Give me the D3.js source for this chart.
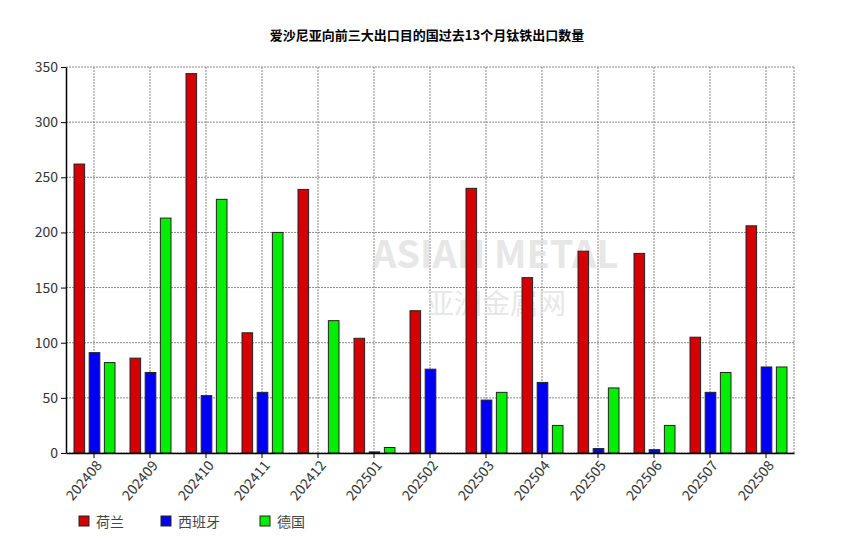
<!DOCTYPE html><html><head><meta charset="utf-8"><script src="https://cdn.jsdelivr.net/npm/d3@7"></script>
<style>body{margin:0;background:#fff}text{font-family:"Noto Sans CJK SC","DejaVu Sans",sans-serif}</style></head><body>
<svg id="c" width="855" height="554"></svg>
<script>
const months=["202408","202409","202410","202411","202412","202501","202502","202503","202504","202505","202506","202507","202508"];
const seriesNames=["荷兰","西班牙","德国"];
const colors=["#d40000","#0000ee","#00ee00"];
const netherlands=[262,86,344,109,239,104,129,240,159,183,181,105,206];
const spain=[91,73,52,55,0,1,76,48,64,4,3,55,78];
const germany=[82,213,230,200,120,5,0,55,25,59,25,73,78];
const yTicks=[0,50,100,150,200,250,300,350];
const data=[netherlands,spain,germany];
const svg=d3.select("#c");
const L=66,R=794,T=67,B=453;
const x=d3.scaleBand().domain(months).range([L,R]);
const xs=d3.scaleBand().domain([0,1,2]).range([8,49]).paddingInner(0.3);
const y=d3.scaleLinear().domain([0,350]).range([B,T]);
svg.append("text").attr("x",427).attr("y",40).attr("text-anchor","middle").attr("font-size",13).attr("font-weight","bold").text("爱沙尼亚向前三大出口目的国过去13个月钛铁出口数量");
const g=svg.append("g");
yTicks.forEach(t=>{g.append("line").attr("x1",L).attr("x2",R).attr("y1",y(t)).attr("y2",y(t)).attr("stroke","#888").attr("stroke-dasharray","2,1");});
months.forEach(m=>{g.append("line").attr("x1",x(m)+x.bandwidth()/2).attr("x2",x(m)+x.bandwidth()/2).attr("y1",T).attr("y2",B).attr("stroke","#888").attr("stroke-dasharray","2,1");});
g.append("line").attr("x1",R).attr("x2",R).attr("y1",T).attr("y2",B).attr("stroke","#888").attr("stroke-dasharray","2,1");
svg.append("text").attr("x",372).attr("y",268).attr("font-size",38).attr("font-weight","bold").attr("fill","#ddd").attr("opacity",0.7).text("ASIAN METAL");
svg.append("text").attr("x",426).attr("y",314).attr("font-size",28).attr("fill","#ddd").attr("opacity",0.7).text("亚洲金属网");
data.forEach((arr,si)=>{
  svg.append("g").selectAll("rect").data(arr).join("rect")
   .attr("x",(d,i)=>x(months[i])+xs(si)).attr("width",xs.bandwidth())
   .attr("y",d=>y(d)).attr("height",d=>B-y(d))
   .attr("fill",colors[si]).attr("stroke","#222").attr("stroke-width",1);
});
const ya=svg.append("g").attr("transform",`translate(${L},0)`).call(d3.axisLeft(y).tickValues(yTicks).tickSize(5).tickSizeOuter(0));
ya.selectAll("text").attr("font-size",14).attr("fill","#333");
const xa=svg.append("g").attr("transform",`translate(0,${B})`).call(d3.axisBottom(x).tickSize(5).tickSizeOuter(0));
xa.selectAll("text").attr("font-size",14).attr("fill","#333").attr("text-anchor","end").attr("dx","-0.3em").attr("dy","0.5em").attr("transform","rotate(-50)");
svg.selectAll(".domain").attr("stroke","#000").attr("stroke-width",1.5);
seriesNames.forEach((n,i)=>{
  const lx=[79,161,260][i];
  svg.append("rect").attr("x",lx).attr("y",516).attr("width",10).attr("height",10).attr("fill",colors[i]).attr("stroke","#222");
  svg.append("text").attr("x",lx+17).attr("y",527).attr("font-size",14).attr("fill","#444").text(n);
});
</script></body></html>
